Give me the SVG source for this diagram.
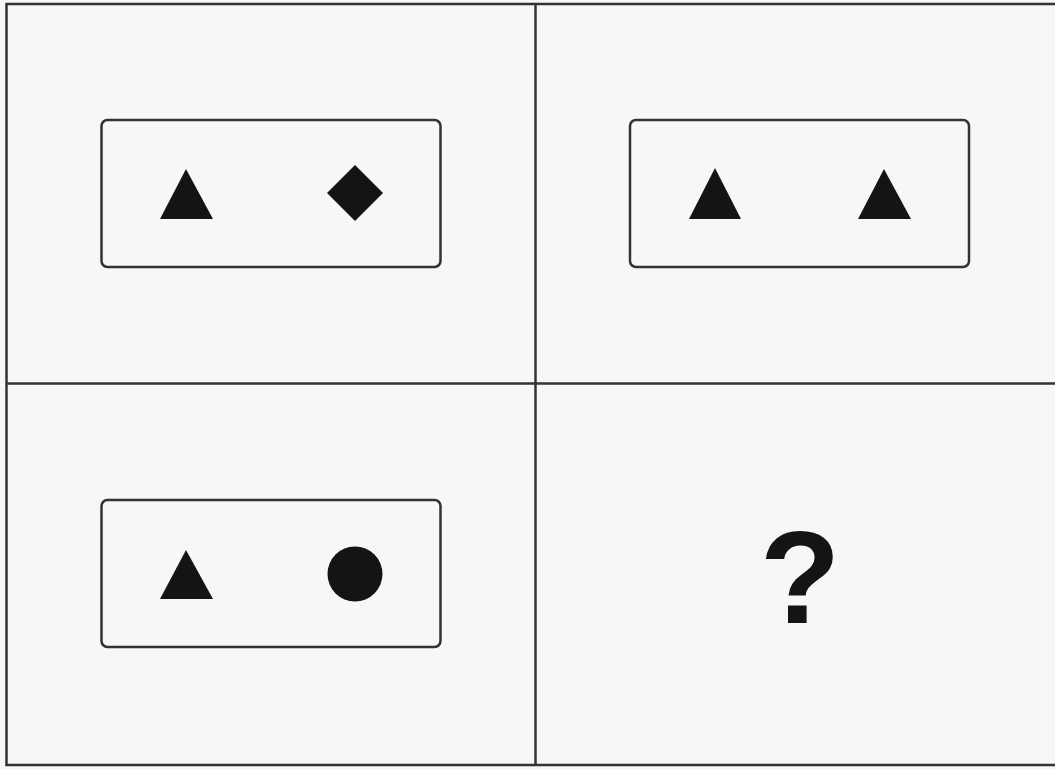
<svg xmlns="http://www.w3.org/2000/svg" width="1055" height="769" viewBox="0 0 1055 769">
<style>
.grid{stroke:#333;stroke-width:2.5;fill:none}
.box{fill:#f7f7f5;stroke:#333;stroke-width:2.5}
.sh{fill:#141412}
.q{font-family:"Liberation Sans",Arial,sans-serif;font-size:132px;font-weight:bold;fill:#141412;text-anchor:middle}
</style>
<rect x="0" y="0" width="1055" height="769" fill="#f7f7f5"/>
<g id="connectors">
<path class="grid" d="M1060 4 H6.5 V765 H1060"/>
<line class="grid" x1="535.5" y1="4" x2="535.5" y2="765"/>
<line class="grid" x1="6" y1="383.5" x2="1060" y2="383.5"/>
</g>
<g id="cell-tl">
<rect class="box" x="101.5" y="120" width="339" height="147" rx="6"/>
<polygon class="sh" points="160,219 186,169 213,219"/>
<polygon class="sh" points="355,165 383,193 355,221 327,193"/>
</g>
<g id="cell-tr">
<rect class="box" x="630" y="120" width="339" height="147" rx="6"/>
<polygon class="sh" points="689,219 715,168 741,219"/>
<polygon class="sh" points="858,219 884,169 911,219"/>
</g>
<g id="cell-bl">
<rect class="box" x="101.5" y="500" width="339" height="147" rx="6"/>
<polygon class="sh" points="160,599 186,550 213,599"/>
<circle class="sh" cx="355" cy="574" r="27.5"/>
</g>
<g id="cell-br">
<text class="q" x="800" y="623">?</text>
</g>
</svg>
